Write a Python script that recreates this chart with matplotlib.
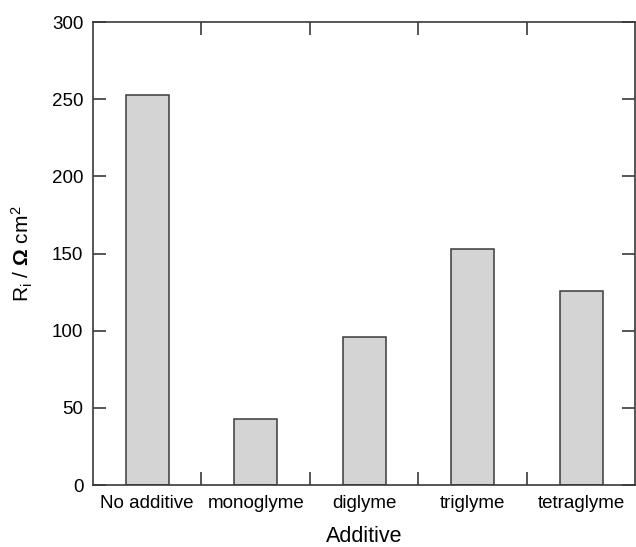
import matplotlib
matplotlib.use("Agg")
import matplotlib.pyplot as plt
import numpy as np

plt.rcParams['font.family'] = ['Liberation Sans', 'DejaVu Sans']
plt.rcParams['mathtext.fontset'] = 'custom'
plt.rcParams['mathtext.rm'] = 'Liberation Sans'
plt.rcParams['mathtext.it'] = 'Liberation Sans'
plt.rcParams['mathtext.bf'] = 'Liberation Sans:bold'

# dados
aditivos = ["No additive", "monoglyme", "diglyme", "triglyme", "tetraglyme"]
resistencia = [253, 43, 96, 153, 126]
y_ticks = [0, 50, 100, 150, 200, 250, 300]

cor_linha = "#3a3a3a"
cor_texto = "#000000"

fig = plt.figure(figsize=(6.36, 5.47), dpi=100)
ax = fig.add_axes([0.1462, 0.1133, 0.853, 0.8464])

x = np.arange(len(aditivos))
ax.bar(x, resistencia, width=0.40, color="#d4d4d4", edgecolor=cor_linha, linewidth=1.1)

ax.set_xlim(-0.5, 4.5)
ax.set_ylim(0, 300)
ax.set_yticks(y_ticks)
ax.set_xticks(x)
ax.set_xticklabels(aditivos)
ax.set_xticks(x[:-1] + 0.5, minor=True)

for s in ax.spines.values():
    s.set_color(cor_linha)
    s.set_linewidth(1.2)

ax.tick_params(axis='x', which='major', length=0, pad=7, labelsize=13.5, labelcolor=cor_texto)
ax.tick_params(axis='x', which='minor', direction='in', length=9.5, width=1.2, color=cor_linha, top=True, bottom=True)
ax.tick_params(axis='y', which='major', direction='in', length=9.5, width=1.2, color=cor_linha,
               left=True, right=True, labelsize=13.5, labelcolor=cor_texto, pad=7)

ax.set_xlabel("Additive", fontsize=15.5, labelpad=10, color=cor_texto)
ax.set_ylabel(r"R$_\mathregular{i}$ / $\mathbf{\Omega}$ cm$^\mathregular{2}$", fontsize=15, labelpad=12, color=cor_texto)

fig.savefig("out.png", dpi=100)
